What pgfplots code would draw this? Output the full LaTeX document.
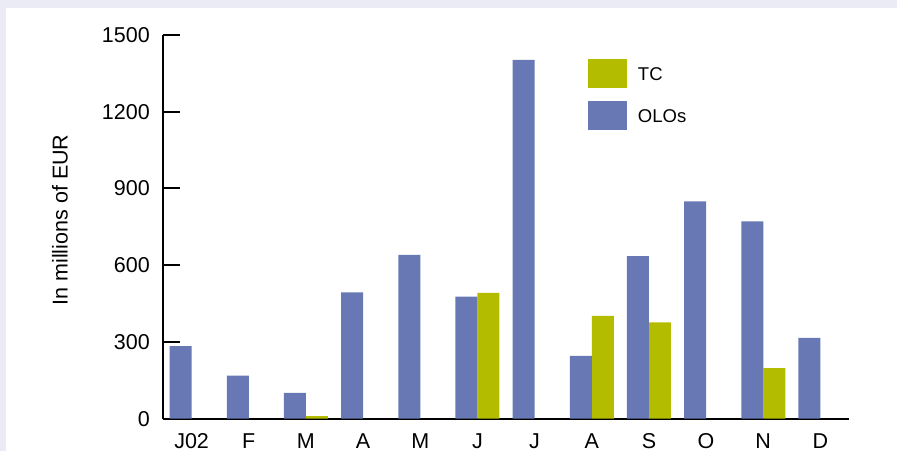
\documentclass[border=0pt]{standalone}
\usepackage{fontspec}
\setmainfont{Liberation Sans}
\usepackage{pgfplots}
\pgfplotsset{compat=1.18}
\definecolor{olo}{RGB}{104,120,180}
\definecolor{tc}{RGB}{180,188,0}
\definecolor{bgband}{RGB}{235,235,245}
\begin{document}
\begin{tikzpicture}[x=1pt,y=1pt]
\useasboundingbox (0,0) rectangle (897,451);
\fill[bgband] (0,0) rectangle (897,451);
\fill[white] (6,0) rectangle (897,442.5);
\begin{axis}[
  at={(163pt,32.3pt)}, anchor=south west,
  scale only axis, width=686pt, height=383.7pt,
  xmin=-0.5, xmax=11.5, ymin=0, ymax=1500,
  axis x line=bottom, axis y line=left,
  axis line style={-, line width=2pt, black},
  tick align=inside,
  major tick length=17pt, minor tick length=9pt,
  every tick/.style={black, line width=2pt},
  xtick={0,...,11},
  xticklabels={J02,F,M,A,M,J,J,A,S,O,N,D},
  x tick style={draw=none},
  minor xtick={-0.5,0.5,...,11.5},
  ytick={0,300,600,900,1200,1500},
  yticklabels={0,300,600,900,1200,1500},
  tick label style={font=\fontsize{21.5}{24}\selectfont},
  xticklabel style={anchor=base, yshift=-12.5pt},
  yticklabel style={anchor=east, inner sep=0pt, xshift=-13pt},
  ylabel={In millions of EUR},
  ylabel style={at={(axis description cs:-0.1501,0.518)}, anchor=center, rotate=0, font=\fontsize{21.5}{24}\selectfont},
  ybar, bar width=22pt,
  legend image code/.code={\fill[#1] (0pt,-13.5pt) rectangle (39pt,15.5pt);},
  legend style={at={(axis cs:6.934,1406)}, anchor=north west, draw=none, fill=none,
    inner sep=0pt, outer sep=0pt, row sep=13pt, column sep=11pt,
    font=\fontsize{18.5}{20}\selectfont, nodes={inner sep=0pt}},
  legend cell align=left,
]
\addplot[fill=tc, draw=none, bar shift=11pt] coordinates {
  (2,10) (5,492) (7,402) (8,377) (10,198)
};
\addlegendentry{TC}
\addplot[fill=olo, draw=none, bar shift=-11pt] coordinates {
  (0,284) (1,168) (2,101) (3,494) (4,640) (5,477) (6,1403) (7,246) (8,636) (9,850) (10,771) (11,316)
};
\addlegendentry{OLOs}
\end{axis}
\end{tikzpicture}
\end{document}
